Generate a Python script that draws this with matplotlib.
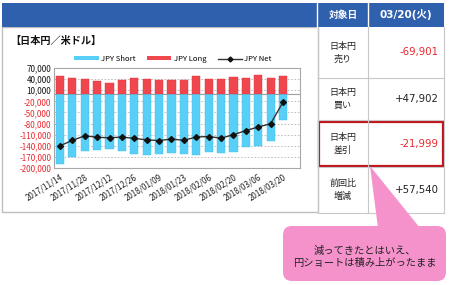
import matplotlib
matplotlib.use("Agg")
import matplotlib.pyplot as plt
import numpy as np
from matplotlib.patches import Rectangle, FancyBboxPatch, Polygon
from matplotlib.lines import Line2D
from matplotlib.ticker import FuncFormatter

plt.rcParams['font.family'] = ['Noto Sans CJK JP', 'DejaVu Sans']

# ---- data ----
dates = ["2017/11/14", "2017/11/21", "2017/11/28", "2017/12/05", "2017/12/12",
         "2017/12/19", "2017/12/26", "2018/01/02", "2018/01/09", "2018/01/16",
         "2018/01/23", "2018/01/30", "2018/02/06", "2018/02/13", "2018/02/20",
         "2018/02/27", "2018/03/06", "2018/03/13", "2018/03/20"]
jpy_short = [-189000, -169500, -153000, -151500, -149500, -153000, -163000,
             -165000, -161000, -158500, -162000, -165000, -156000, -160500,
             -156000, -144000, -140500, -126000, -69901]
jpy_long = [49000, 44000, 39500, 34000, 30500, 36500, 43000, 39500, 37000,
            37000, 37000, 48500, 39500, 41000, 46500, 44000, 51000, 44000, 47902]
jpy_net = [-140000, -125500, -113000, -117000, -118500, -116500, -120000,
           -124000, -126000, -121800, -125300, -116300, -115000, -119500,
           -110000, -99000, -89300, -80500, -21999]
yticks = [70000, 40000, 10000, -20000, -50000, -80000, -110000, -140000,
          -170000, -200000]

table_header = ["対象日", "03/20(火)"]
table_labels = ["日本円\n売り", "日本円\n買い", "日本円\n差引", "前回比\n増減"]
table_values = ["-69,901", "+47,902", "-21,999", "+57,540"]
callout_text = "減ってきたとはいえ、\n円ショートは積み上がったまま"
title = "【日本円／米ドル】"

W, H = 453, 285
fig = plt.figure(figsize=(W / 100, H / 100), dpi=100)
bg = fig.add_axes([0, 0, 1, 1])
bg.set_xlim(0, W)
bg.set_ylim(H, 0)
bg.axis('off')

blue_hdr = "#2F60AE"
grid_c = "#C8C8C8"
wide = ['DejaVu Sans', 'Noto Sans CJK JP']

# left panel border
bg.add_patch(Rectangle((2, 27), 316, 185, fill=False, ec="#BDBDBD", lw=1.0))
# header bar
bg.add_patch(Rectangle((2, 3), 442, 24, fc=blue_hdr, ec="none"))
bg.plot([317, 317], [3, 27], color="white", lw=1.0)
bg.plot([368, 368], [3, 27], color="white", lw=1.0)
bg.text(343, 15, table_header[0], color="white", fontsize=7, fontweight="bold",
        ha="center", va="center")
bg.text(406, 15, table_header[1], color="white", fontsize=7.5, fontweight="bold",
        ha="center", va="center", family=wide)

# table
rows = [27, 78, 120, 167, 213]
for x in [318, 368, 444]:
    bg.plot([x, x], [27, 213], color=grid_c, lw=0.8)
for y in rows[1:]:
    bg.plot([318, 444], [y, y], color=grid_c, lw=0.8)
val_colors = ["#E8262B", "#222222", "#E8262B", "#222222"]
for i in range(4):
    yc = (rows[i] + rows[i + 1]) / 2
    bg.text(343, yc, table_labels[i], fontsize=6.5, ha="center", va="center",
            color="#222222", linespacing=1.5)
    bg.text(439, yc, table_values[i], fontsize=7.3, ha="right", va="center",
            color=val_colors[i], family=wide)
bg.add_patch(Rectangle((318.5, 122), 124.5, 44, fill=False, ec="#C0141E", lw=1.6))

# title
bg.text(10, 41, title, fontsize=7.3, fontweight="bold", ha="left", va="center",
        color="#111111")

# callout
pink = "#F592CB"
bg.add_patch(Polygon([(370, 166), (378, 228), (420, 228)], closed=True,
                     fc=pink, ec="none", zorder=5))
bg.add_patch(FancyBboxPatch((283, 226), 163, 55,
                            boxstyle="round,pad=0,rounding_size=9",
                            fc=pink, ec="none", zorder=5))
bg.text(365, 257, callout_text, fontsize=7.4, ha="center", va="center",
        color="#222222", zorder=6, linespacing=1.2)

# chart axes
ax = fig.add_axes([54 / W, 1 - 168 / H, 246 / W, 100 / H])
x = np.arange(len(dates))
ax.bar(x, jpy_short, width=0.66, color="#58CFF6", edgecolor="#40BDEA", lw=0.3,
       zorder=2, label="JPY Short")
ax.bar(x, jpy_long, width=0.66, color="#F0474F", edgecolor="#DD3038", lw=0.3,
       zorder=2, label="JPY Long")
ax.plot(x, jpy_net, color="#333333", lw=1.0, marker="D", ms=3,
        mfc="#111111", mec="#111111", zorder=3, label="JPY Net")
ax.axhline(0, color="#A0A0A0", lw=0.8, zorder=1)
ax.set_xlim(-0.48, 19.37)
ax.set_ylim(-200000, 70000)
ax.set_yticks(yticks)
ax.yaxis.set_major_formatter(FuncFormatter(lambda v, p: f"{int(v):,}"))
for t, v in zip(ax.get_yticklabels(), yticks):
    t.set_color("#111111" if v > 0 else "#E8262B")
ax.yaxis.grid(True, linestyle=(0, (2, 2)), color="#B5B5B5", lw=0.6, zorder=0)
ax.tick_params(axis="y", length=0, labelsize=5.8, pad=2)
ax.set_xticks(x[::2])
ax.set_xticklabels(dates[::2], rotation=32, ha="right", rotation_mode="anchor",
                   fontsize=5.8, color="#222222")
ax.tick_params(axis="x", length=0, pad=3)
for s in ax.spines.values():
    s.set_color("#A8A8A8")
    s.set_linewidth(0.8)

handles = [Rectangle((0, 0), 1, 1, fc="#58CFF6", ec="none"),
           Rectangle((0, 0), 1, 1, fc="#F0474F", ec="none"),
           Line2D([0], [0], color="#333333", lw=1.0, marker="D", ms=2.5,
                  mfc="#111111", mec="#111111")]
fig.legend(handles, ["JPY Short", "JPY Long", "JPY Net"], loc="center",
           bbox_to_anchor=(173 / W, 1 - 59 / H), ncol=3, frameon=False,
           fontsize=5.5, handlelength=3.2, handleheight=0.5, columnspacing=1.5,
           handletextpad=0.3)

fig.savefig("out.png", dpi=100)
